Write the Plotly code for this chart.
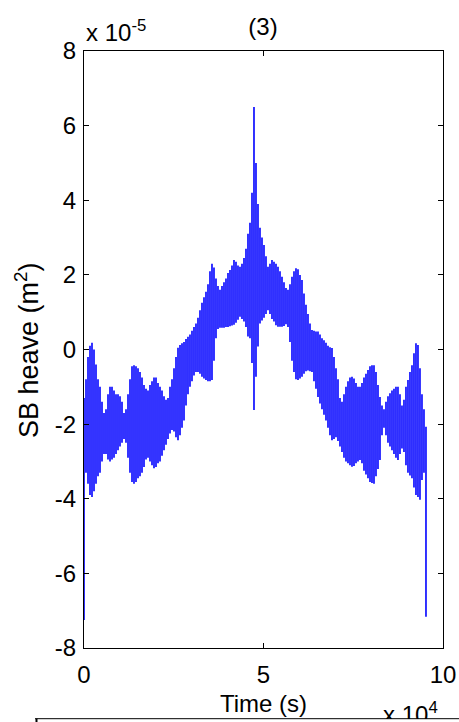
import numpy as np
import plotly.graph_objects as go

# SB heave record: successive oscillation peaks (hi) and troughs (lo), units of 1e-5 m^2
hi = [-1.3, -0.8, -0.2, 0.1, 0.18, 0.0, -0.4, -0.8, -1.0, -1.4,
      -1.7, -1.6, -1.2, -1.0, -1.0, -1.1, -1.2, -1.2, -1.25, -1.4,
      -1.7, -1.6, -1.2, -0.8, -0.45, -0.42, -0.45, -0.5, -0.6, -0.75,
      -0.95, -1.05, -1.1, -0.95, -0.85, -0.75, -0.75, -0.9, -1.0, -1.1,
      -1.25, -1.35, -1.3, -1.0, -0.8, -0.5, -0.2, 0.05, 0.12, 0.17,
      0.2, 0.28, 0.34, 0.4, 0.5, 0.6, 0.7, 0.85, 1.05, 1.25,
      1.4, 1.55, 1.75, 2.1, 2.3, 2.2, 1.9, 1.7, 1.6, 1.7,
      1.8, 1.9, 2.05, 2.13, 2.25, 2.4, 2.35, 2.25, 2.22, 2.3,
      2.45, 2.7, 3.1, 3.4, 4.2, 6.5, 5.0, 3.9, 3.26, 3.0,
      2.8, 2.5, 2.22, 2.3, 2.4, 2.35, 2.3, 2.22, 2.1, 1.95,
      1.8, 1.65, 1.6, 1.75, 1.95, 2.1, 2.18, 2.15, 2.0, 1.86,
      1.5, 1.2, 0.95, 0.7, 0.52, 0.5, 0.48, 0.48, 0.4, 0.3,
      0.25, 0.18, 0.1, 0.06, 0.04, -0.2, -0.5, -0.8, -1.3, -1.4,
      -1.2, -1.0, -0.85, -0.75, -0.73, -0.78, -0.9, -1.0, -1.0, -0.9,
      -0.75, -0.65, -0.55, -0.45, -0.42, -0.42, -0.6, -0.95, -1.27, -1.5,
      -1.6, -1.4, -1.25, -1.17, -1.1, -1.05, -1.0, -1.0, -1.2, -1.5,
      -1.35, -1.0, -0.82, -0.6, -0.42, -0.1, 0.17, 0.12, -0.5, -1.2,
      -1.6, -2.07]
lo = [-7.25, -3.3, -3.6, -3.9, -3.95, -3.8, -3.6, -3.4, -3.3, -3.0,
      -2.8, -2.8, -2.95, -3.0, -2.95, -2.9, -2.8, -2.7, -2.6, -2.5,
      -2.4, -2.5, -2.9, -3.3, -3.55, -3.6, -3.55, -3.45, -3.4, -3.3,
      -3.15, -2.95, -2.9, -3.0, -3.1, -3.18, -3.15, -3.05, -3.0, -2.85,
      -2.7, -2.55, -2.4, -2.25, -2.16, -2.2, -2.35, -2.43, -2.3, -2.1,
      -1.9, -1.5, -1.2, -1.0, -0.85, -0.7, -0.6, -0.6, -0.65, -0.73,
      -0.78, -0.82, -0.85, -0.85, -0.82, -0.3, 0.3, 0.55, 0.58, 0.58,
      0.58, 0.6, 0.6, 0.62, 0.64, 0.66, 0.72, 0.8, 0.88, 0.82,
      0.75, 0.6, 0.35, 0.3, -0.36, -1.62, -0.73, 0.08, 0.7, 0.78,
      0.85, 0.95, 1.05, 0.95, 0.82, 0.75, 0.65, 0.61, 0.61, 0.61,
      0.63, 0.68, 0.6, 0.2, -0.3, -0.6, -0.8, -0.82, -0.78, -0.73,
      -0.65, -0.58, -0.56, -0.58, -0.6, -0.85, -1.05, -1.27, -1.45, -1.6,
      -1.75, -1.9, -2.1, -2.3, -2.43, -2.4, -2.35, -2.45, -2.6, -2.75,
      -2.9, -3.0, -3.05, -3.1, -3.14, -3.12, -3.05, -3.0, -2.96, -3.05,
      -3.25, -3.35, -3.45, -3.55, -3.58, -3.6, -3.4, -3.2, -2.96, -2.3,
      -2.1, -2.3, -2.5, -2.6, -2.7, -2.8, -2.9, -2.96, -2.8, -2.65,
      -2.75, -3.1, -3.3, -3.38, -3.45, -3.7, -3.9, -3.95, -4.03, -3.5,
      -3.3, -7.16]
record_end = 9.526          # end of record, units of 1e4 s
x_ticks = [0, 5, 10]
y_ticks = [-8, -6, -4, -2, 0, 2, 4, 6, 8]

n = min(len(hi), len(lo))
t = np.linspace(0, record_end, n)
xs, ys = [], []
for i in range(n):
    xs += [t[i], t[i], None]
    ys += [lo[i], hi[i], None]

W, H = 459, 722
FONT = "Liberation Sans, Arial, sans-serif"
FS = 24
fig = go.Figure()
fig.add_trace(go.Scatter(x=xs, y=ys, mode="lines", connectgaps=False,
                         line=dict(color="#0000ff", width=1.6),
                         showlegend=False, hoverinfo="skip"))
# exponent label of the x axis, partly hidden by the frame of the next panel
# (placed on a full-figure overlay axis measured in pixels)
fig.add_trace(go.Scatter(x=[383], y=[705], xaxis="x2", yaxis="y2",
                         mode="text", text=["x 10<sup>4</sup>"],
                         textposition="bottom right", cliponaxis=False,
                         textfont=dict(family=FONT, size=FS, color="black"),
                         showlegend=False, hoverinfo="skip"))

axis_common = dict(showline=True, linecolor="black", linewidth=1, mirror="allticks",
                   ticks="inside", ticklen=5, tickwidth=1, tickcolor="black",
                   showgrid=False, zeroline=False, automargin=False,
                   tickfont=dict(family=FONT, size=FS, color="black"))
fig.update_layout(
    width=W, height=H,
    margin=dict(l=0, r=0, t=0, b=0, pad=0, autoexpand=False),
    paper_bgcolor="white", plot_bgcolor="rgba(0,0,0,0)",
    xaxis=dict(domain=[84 / W, 443 / W], range=[0, 10], anchor="y",
               tickvals=x_ticks, ticktext=[str(v) for v in x_ticks],
               ticklabelstandoff=5, **axis_common),
    yaxis=dict(domain=[1 - 648 / H, 1 - 51 / H], range=[-8, 8], anchor="x",
               tickvals=y_ticks, ticktext=[str(v) for v in y_ticks],
               ticklabelstandoff=2, **axis_common),
    xaxis2=dict(domain=[0, 1], range=[0, W], anchor="y2", visible=False,
                automargin=False, fixedrange=True),
    yaxis2=dict(domain=[0, 1], range=[H, 0], anchor="x2", visible=False,
                automargin=False, fixedrange=True),
    title=dict(text="(3)", x=263 / W, xref="container", xanchor="center",
               y=1 - 27 / H, yref="container", yanchor="middle",
               font=dict(family=FONT, size=FS, color="black")),
    annotations=[
        dict(text="x 10<sup>-5</sup>", xref="paper", yref="paper",
             x=84 / W, y=1 - 48 / H, xanchor="left", yanchor="bottom",
             showarrow=False, font=dict(family=FONT, size=FS, color="black")),
        dict(text="Time (s)", xref="paper", yref="paper", x=263.5 / W, y=1 - 703 / H,
             xanchor="center", yanchor="middle", showarrow=False,
             font=dict(family=FONT, size=FS, color="black")),
        dict(text="SB heave (m<sup>2</sup>)", xref="paper", yref="paper",
             x=27 / W, y=1 - 350 / H, xanchor="center", yanchor="middle",
             textangle=-90, showarrow=False,
             font=dict(family=FONT, size=27, color="black")),
    ],
    shapes=[
        dict(type="rect", xref="paper", yref="paper", layer="above",
             x0=0, x1=1, y0=1 - 719 / H, y1=0,
             fillcolor="white", line=dict(width=0)),
        dict(type="line", xref="paper", yref="paper", layer="above",
             x0=35 / W, x1=1, y0=1 - 718.7 / H, y1=1 - 718.7 / H,
             line=dict(color="black", width=1)),
        dict(type="line", xref="paper", yref="paper", layer="above",
             x0=36.5 / W, x1=36.5 / W, y0=1 - 718.7 / H, y1=0,
             line=dict(color="black", width=2)),
    ],
)
fig.write_html("out.html", config={"displayModeBar": False},
               post_script="document.body.style.margin='0px';")
